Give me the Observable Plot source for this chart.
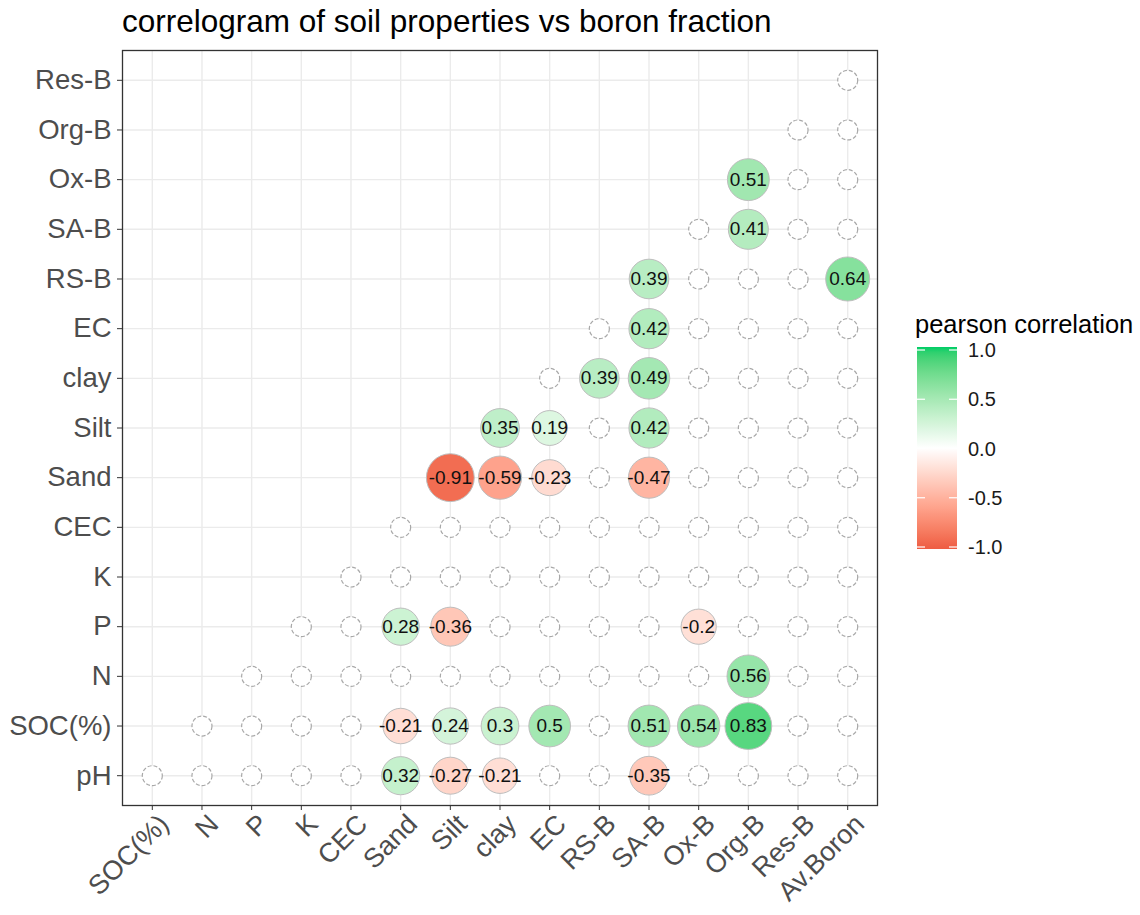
<!DOCTYPE html>
<html>
<head>
<meta charset="utf-8">
<script src="https://cdn.jsdelivr.net/npm/d3@7"></script>
<script src="https://cdn.jsdelivr.net/npm/@observablehq/plot@0.6"></script>
<style>
  html, body { margin: 0; padding: 0; background: #fff; }
  #wrap { position: relative; width: 1140px; height: 915px; overflow: hidden; font-family: "Liberation Sans", Arial, sans-serif; }
  #title { position: absolute; left: 122px; top: 5px; font-size: 31.5px; line-height: 32px; color: #000; white-space: nowrap; }
  #chart { position: absolute; left: 0; top: 0; }
  #legend { position: absolute; left: 0; top: 0; pointer-events: none; }
</style>
</head>
<body>
<div id="wrap">
  <div id="chart"></div>
  <div id="title">correlogram of soil properties vs boron fraction</div>
  <svg id="legend" width="1140" height="915"></svg>
</div>
<script>
// Categories
const xCats = ["SOC(%)", "N", "P", "K", "CEC", "Sand", "Silt", "clay", "EC", "RS-B", "SA-B", "Ox-B", "Org-B", "Res-B", "Av.Boron"];
const yCats = ["pH", "SOC(%)", "N", "P", "K", "CEC", "Sand", "Silt", "clay", "EC", "RS-B", "SA-B", "Ox-B", "Org-B", "Res-B"];

// Significant correlations (column, row, value)
const sigX = ["Org-B", "Org-B", "SA-B", "Av.Boron", "SA-B", "RS-B", "SA-B", "clay", "EC", "SA-B",
              "Silt", "clay", "EC", "SA-B", "Sand", "Silt", "Ox-B", "Org-B",
              "Sand", "Silt", "clay", "EC", "SA-B", "Ox-B", "Org-B",
              "Sand", "Silt", "clay", "SA-B"];
const sigY = ["Ox-B", "SA-B", "RS-B", "RS-B", "EC", "clay", "clay", "Silt", "Silt", "Silt",
              "Sand", "Sand", "Sand", "Sand", "P", "P", "P", "N",
              "SOC(%)", "SOC(%)", "SOC(%)", "SOC(%)", "SOC(%)", "SOC(%)", "SOC(%)",
              "pH", "pH", "pH", "pH"];
const sigR = [0.51, 0.41, 0.39, 0.64, 0.42, 0.39, 0.49, 0.35, 0.19, 0.42,
              -0.91, -0.59, -0.23, -0.47, 0.28, -0.36, -0.2, 0.56,
              -0.21, 0.24, 0.3, 0.5, 0.51, 0.54, 0.83,
              0.32, -0.27, -0.21, -0.35];

// Legend tick labels
const legendTicks = [1, 0.5, 0, -0.5, -1];

// Build tables
const sig = sigR.map((r, i) => ({x: sigX[i], y: sigY[i], r}));
const sigKey = new Set(sig.map(d => d.x + "|" + d.y));
const hollow = [];
yCats.forEach((yc, yi) => {
  xCats.forEach((xc, xi) => {
    if (xi >= yi && !sigKey.has(xc + "|" + yc)) hollow.push({x: xc, y: yc});
  });
});

const FONT = "Liberation Sans, Arial, sans-serif";

const chart = Plot.plot({
  width: 880,
  height: 915,
  marginLeft: 122,
  marginRight: 3,
  marginTop: 50,
  marginBottom: 110,
  style: {fontFamily: FONT, background: "transparent", overflow: "visible"},
  x: {type: "point", domain: xCats, padding: 0.6, round: false, label: null},
  y: {type: "point", domain: yCats.slice().reverse(), padding: 0.6, round: false, label: null},
  r: {type: "sqrt", domain: [0, 1], range: [12, 24.5]},
  color: {type: "linear", domain: [-1, 0, 1], range: ["#EE5C42", "#FFFFFF", "#00CD66"], interpolate: "lab"},
  marks: [
    Plot.gridX({stroke: "#EBEBEB", strokeOpacity: 1, strokeWidth: 1.4}),
    Plot.gridY({stroke: "#EBEBEB", strokeOpacity: 1, strokeWidth: 1.4}),
    Plot.axisY({fontSize: 27.5, tickSize: 5, tickPadding: 6, fill: "#4D4D4D", stroke: "#333", label: null}),
    // x tick marks only
    Plot.axisX({tickSize: 5, tickFormat: () => "", stroke: "#333", label: null}),
    // x tick labels only, rotated
    Plot.axisX({fontSize: 27, tickSize: 0, tickPadding: 8, tickRotate: -45, dx: 12, dy: 6, fill: "#4D4D4D", label: null}),
    Plot.dot(hollow, {x: "x", y: "y", r: 10, fill: "#fff", stroke: "#A8A8A8", strokeWidth: 1.2, strokeDasharray: "4,2"}),
    Plot.dot(sig, {x: "x", y: "y", r: d => Math.abs(d.r), fill: "r", stroke: "#BDBDBD", strokeWidth: 1}),
    Plot.text(sig, {x: "x", y: "y", text: d => String(d.r), fontSize: 19, fill: "#111"}),
    Plot.frame({stroke: "#333", strokeWidth: 1.3})
  ]
});
document.getElementById("chart").appendChild(chart);

// Legend (vertical colorbar) built from the chart's color scale
const color = chart.scale("color");
const lg = d3.select("#legend");
const barX = 917, barW = 40, barTop = 347, barBot = 549;
const ly = d3.scaleLinear().domain([1, -1]).range([350, 547]);
const grad = lg.append("defs").append("linearGradient")
  .attr("id", "cbar").attr("x1", 0).attr("y1", 0).attr("x2", 0).attr("y2", 1);
d3.range(0, 41).forEach(i => {
  const t = i / 40;
  const v = 1 - 2 * t;
  grad.append("stop").attr("offset", t).attr("stop-color", color.apply(v));
});
lg.append("text").attr("x", 915).attr("y", 333)
  .attr("font-family", FONT).attr("font-size", 25.5).attr("fill", "#000").text("pearson correlation");
lg.append("rect").attr("x", barX).attr("y", barTop).attr("width", barW).attr("height", barBot - barTop)
  .attr("fill", "url(#cbar)");
legendTicks.forEach(v => {
  const y = ly(v);
  lg.append("line").attr("x1", barX).attr("x2", barX + 8).attr("y1", y).attr("y2", y).attr("stroke", "#fff").attr("stroke-width", 1.2);
  lg.append("line").attr("x1", barX + barW - 8).attr("x2", barX + barW).attr("y1", y).attr("y2", y).attr("stroke", "#fff").attr("stroke-width", 1.2);
  lg.append("text").attr("x", 968).attr("y", y).attr("dy", "0.36em")
    .attr("font-family", FONT).attr("font-size", 20).attr("fill", "#1a1a1a").text(v.toFixed(1));
});
</script>
</body>
</html>
